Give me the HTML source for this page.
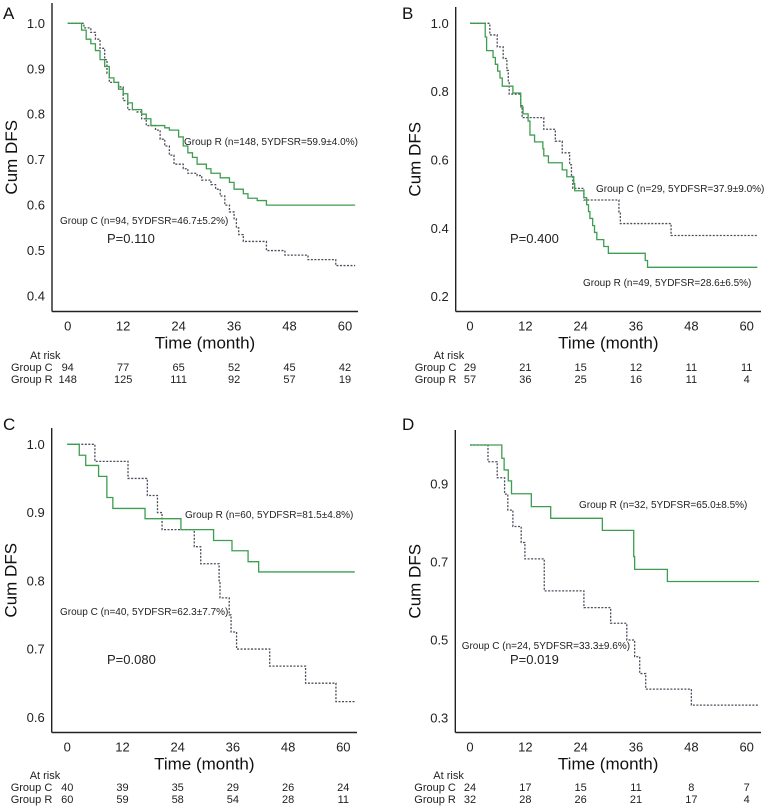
<!DOCTYPE html>
<html><head><meta charset="utf-8"><style>
body{margin:0;background:#fff;width:774px;height:812px;overflow:hidden}
svg{display:block;font-family:"Liberation Sans",sans-serif}
</style></head><body>
<svg id="fig" width="774" height="812"></svg>
<script>
const xTicks=[0,12,24,36,48,60];
// Panel A
const aR=[[0,1],[3,0.985],[4,0.965],[5,0.955],[6,0.94],[7,0.92],[8,0.905],[9,0.88],[10,0.87],[11,0.855],[12,0.845],[13,0.825],[14,0.81],[16,0.8],[17,0.79],[18,0.775],[21,0.77],[22,0.765],[24,0.75],[25,0.73],[26,0.715],[27,0.705],[28,0.69],[30,0.68],[31,0.67],[33,0.66],[35,0.65],[36,0.635],[38,0.625],[39,0.615],[41,0.61],[43,0.6],[62.2,0.6]];
const aC=[[0,1],[3.5,0.99],[5,0.98],[6,0.965],[7,0.945],[8,0.92],[8.5,0.89],[9,0.87],[11,0.86],[12,0.83],[13,0.81],[15,0.805],[16,0.79],[17,0.775],[19,0.765],[20,0.745],[21,0.73],[22,0.71],[23,0.69],[25,0.68],[26,0.67],[28,0.665],[29,0.655],[31,0.645],[32,0.635],[33,0.62],[34,0.6],[35,0.585],[36,0.57],[36.5,0.55],[37,0.535],[38,0.52],[43,0.5],[47,0.49],[52,0.48],[58,0.467],[62.2,0.467]];
const aRiskC=[94,77,65,52,45,42];
const aRiskR=[148,125,111,92,57,19];
const aYTicks=[0.4,0.5,0.6,0.7,0.8,0.9,1.0];
// Panel B
const bR=[[0,1],[3.3,0.96],[3.6,0.92],[5,0.9],[5.5,0.88],[6,0.86],[6.5,0.84],[7,0.816],[9.3,0.796],[11,0.755],[11.5,0.735],[12.6,0.714],[13,0.673],[14,0.653],[15.8,0.633],[16,0.612],[17,0.592],[20,0.571],[21,0.551],[22.5,0.531],[22.7,0.51],[24.7,0.49],[25.3,0.469],[25.7,0.449],[26,0.429],[26.6,0.408],[27,0.388],[27.5,0.367],[29,0.347],[30,0.327],[38,0.306],[38.5,0.286],[62.3,0.286]];
const bC=[[0,1],[4.3,0.966],[5.9,0.931],[7.2,0.897],[8,0.862],[8.3,0.828],[8.5,0.793],[11,0.759],[11.3,0.724],[16,0.69],[18.5,0.655],[20,0.621],[21.6,0.586],[22,0.552],[22.3,0.517],[24.7,0.483],[32.3,0.448],[32.6,0.414],[43.6,0.379],[62.3,0.379]];
const bRiskC=[29,21,15,12,11,11];
const bRiskR=[57,36,25,16,11,4];
const bYTicks=[0.2,0.4,0.6,0.8,1.0];
// Panel C
const cR=[[0,1],[2.6,0.984],[4,0.969],[6.8,0.953],[8.6,0.922],[9.9,0.906],[16.9,0.891],[24.7,0.875],[31.8,0.859],[35.8,0.844],[39.3,0.828],[41.6,0.813],[62.5,0.813]];
const cC=[[0,1],[6,0.975],[13.2,0.95],[17.4,0.925],[19.6,0.9],[20.6,0.875],[27.6,0.85],[29,0.825],[33,0.8],[33.2,0.775],[35.2,0.75],[35.6,0.725],[36.8,0.7],[44,0.675],[51.8,0.65],[58.4,0.623],[62.5,0.623]];
const cRiskC=[40,39,35,29,26,24];
const cRiskR=[60,59,58,54,28,11];
const cYTicks=[0.6,0.7,0.8,0.9,1.0];
// Panel D
const dR=[[0,1],[6.9,0.966],[7.4,0.936],[8.3,0.908],[9,0.875],[13.3,0.842],[17.5,0.812],[28.7,0.781],[35.5,0.714],[35.7,0.681],[42.8,0.65],[62.7,0.65]];
const dC=[[0,1],[3.9,0.957],[5.9,0.916],[7.5,0.874],[8.2,0.833],[9.3,0.791],[11.1,0.75],[11.9,0.708],[16.1,0.626],[24.7,0.583],[30.5,0.543],[34,0.5],[35.7,0.457],[36.8,0.414],[38.1,0.374],[48,0.333],[62.7,0.333]];
const dRiskC=[24,17,15,11,8,7];
const dRiskR=[32,28,26,21,17,4];
const dYTicks=[0.3,0.5,0.7,0.9];

const NS="http://www.w3.org/2000/svg";
const svg=document.getElementById('fig');
function mk(tag,attrs,parent,text){const e=document.createElementNS(NS,tag);for(const k in attrs)e.setAttribute(k,attrs[k]);if(text!==undefined)e.textContent=text;(parent||svg).appendChild(e);return e;}

function panel(p){
  const g=mk('g',{});
  
  
  const sx=m=>p.x0+(p.x60-p.x0)*m/60;
  const sy=v=>p.yHi+(p.yLo-p.yHi)*(v-p.vHi)/(p.vLo-p.vHi);
  const lt=mk('text',{x:p.lx,y:p.ly,'font-size':17,fill:'#111'},g,p.id);
  
  const ya=mk('line',{x1:p.ax,y1:p.top,x2:p.ax,y2:p.axY,stroke:'#222','stroke-width':1.4},g);
  
  const xa=mk('line',{x1:p.ax,y1:p.axY,x2:p.right,y2:p.axY,stroke:'#222','stroke-width':1.4},g);
  
  p.yt.forEach(v=>{
    const t=mk('text',{x:p.ax-7,y:sy(v)+4.5,'font-size':13,'text-anchor':'end',fill:'#222'},g,v.toFixed(1));
    
  });
  xTicks.forEach(m=>{
    const t=mk('text',{x:sx(m),y:p.axY+19,'font-size':13,'text-anchor':'middle',fill:'#222'},g,String(m));
    
  });
  const yl=mk('text',{x:0,y:0,'font-size':17,'text-anchor':'middle',fill:'#111',transform:`translate(${p.ax-35},${(p.top+p.axY)/2}) rotate(-90)`},g,'Cum DFS');
  
  const xl=mk('text',{x:(p.ax+p.right)/2,y:p.axY+37,'font-size':17,'text-anchor':'middle',fill:'#111'},g,'Time (month)');
  
  function step(data,color,dash,name){
    let d='M'+sx(data[0][0])+','+sy(data[0][1]);
    for(let i=1;i<data.length;i++){d+=' H'+sx(data[i][0])+' V'+sy(data[i][1]);}
    const a={d:d,fill:'none',stroke:color,'stroke-width':1.3};
    if(dash)a['stroke-dasharray']=dash;
    const e=mk('path',a,g);
    
  }
  step(p.C,'#4a4f5a','2,1.5','curve-group-c');
  step(p.R,'#3e9e50',null,'curve-group-r');
  const ar=mk('text',{x:p.ax-p.rk,y:p.riskY,'font-size':11,fill:'#222'},g,'At risk');
  
  [['Group C',p.rc,p.riskY+12],['Group R',p.rr,p.riskY+24]].forEach(([lab,arr,yy])=>{
    const t=mk('text',{x:p.ax-41,y:yy,'font-size':11,fill:'#222'},g,lab);
    
    arr.forEach((n,i)=>{
      const c=mk('text',{x:sx(xTicks[i]),y:yy,'font-size':11,'text-anchor':'middle',fill:'#222'},g,String(n));
      
    });
  });
  p.notes.forEach(([txt,x,y,fs,nm])=>{
    const t=mk('text',{x:x,y:y,'font-size':fs,fill:'#222'},g,txt);
    
  });
}
panel({id:'A',lx:3,ly:19,ax:52,top:3,axY:311.5,right:358,x0:67.7,x60:345,vHi:1.0,yHi:23.3,vLo:0.4,yLo:296,yt:aYTicks,R:aR,C:aC,rc:aRiskC,rr:aRiskR,riskY:359,rk:22,
  notes:[['Group R (n=148, 5YDFSR=59.9±4.0%)',184,145,10,'group-r-annotation'],['Group C (n=94, 5YDFSR=46.7±5.2%)',60,224,10,'group-c-annotation'],['P=0.110',107,243,13,'p-value']]});
panel({id:'B',lx:402,ly:19,ax:455.7,top:7,axY:311.5,right:761,x0:470,x60:746.7,vHi:1.0,yHi:23.3,vLo:0.2,yLo:296.7,yt:bYTicks,R:bR,C:bC,rc:bRiskC,rr:bRiskR,riskY:359,rk:22,
  notes:[['Group C (n=29, 5YDFSR=37.9±9.0%)',596,192,10,'group-c-annotation'],['Group R (n=49, 5YDFSR=28.6±6.5%)',583,286,10,'group-r-annotation'],['P=0.400',510,243,13,'p-value']]});
panel({id:'C',lx:3,ly:430,ax:51.7,top:428,axY:732.5,right:357,x0:67.3,x60:343.3,vHi:1.0,yHi:444.3,vLo:0.6,yLo:717.3,yt:cYTicks,R:cR,C:cC,rc:cRiskC,rr:cRiskR,riskY:779,rk:22,
  notes:[['Group R (n=60, 5YDFSR=81.5±4.8%)',185,518,10,'group-r-annotation'],['Group C (n=40, 5YDFSR=62.3±7.7%)',60,615,10,'group-c-annotation'],['P=0.080',107,664,13,'p-value']]});
panel({id:'D',lx:402,ly:430,ax:455.3,top:430,axY:732.5,right:761,x0:470,x60:746.7,vHi:0.9,yHi:484,vLo:0.3,yLo:718,yt:dYTicks,R:dR,C:dC,rc:dRiskC,rr:dRiskR,riskY:779,rk:22,
  notes:[['Group R (n=32, 5YDFSR=65.0±8.5%)',579,508,10,'group-r-annotation'],['Group C (n=24, 5YDFSR=33.3±9.6%)',461.7,649,10,'group-c-annotation'],['P=0.019',510,664,13,'p-value']]});
</script>
</body></html>
